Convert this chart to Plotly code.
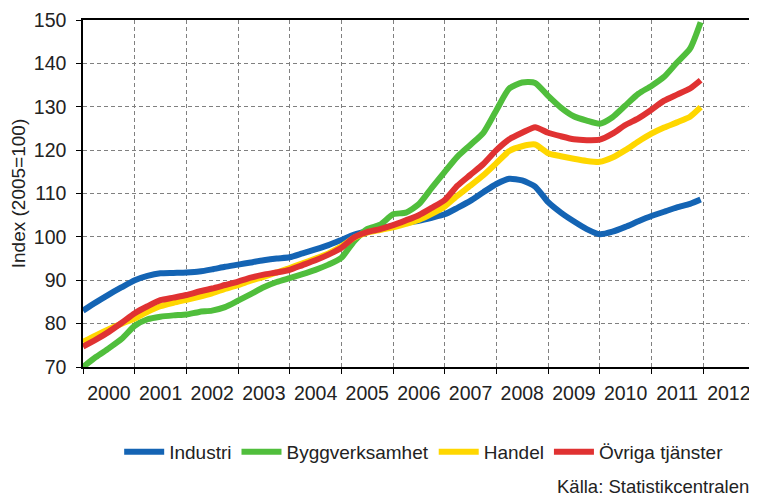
import plotly.graph_objects as go

# Quarterly sample dates
dates = [f"{y}-{m:02d}-01" for y in range(2000, 2012) for m in (1, 4, 7, 10)] + ["2011-12-15"]

industri = [83.0, 84.9, 86.7, 88.4, 90.0, 91.0, 91.6, 91.7, 91.8, 92.0, 92.5, 93.1,
            93.6, 94.1, 94.6, 95.0, 95.3, 96.2, 97.1, 98.1, 99.3, 100.5, 101.3, 101.9,
            102.6, 103.2, 103.7, 104.4, 105.2, 106.7, 108.3, 110.3, 112.2, 113.4, 113.0, 111.6,
            108.0, 105.6, 103.6, 101.8, 100.6, 101.2, 102.3, 103.6, 104.8, 105.8, 106.8, 107.6,
            108.6]
bygg = [70.0, 72.3, 74.3, 76.5, 79.5, 81.0, 81.6, 81.9, 82.1, 82.7, 83.0, 83.8,
        85.3, 86.8, 88.4, 89.6, 90.5, 91.4, 92.4, 93.6, 95.2, 99.0, 101.8, 102.8,
        105.2, 105.6, 107.5, 111.3, 115.0, 118.5, 121.2, 124.0, 129.2, 134.2, 135.6, 135.5,
        132.5, 129.8, 127.8, 126.8, 126.1, 127.6, 130.3, 133.0, 134.8, 136.9, 140.2, 143.4,
        149.5]
handel = [75.8, 77.3, 78.7, 80.0, 81.2, 82.7, 84.0, 84.8, 85.5, 86.2, 87.0, 88.0,
          88.9, 89.9, 90.8, 91.8, 92.8, 93.9, 95.0, 96.2, 97.8, 99.8, 101.0, 101.6,
          102.2, 103.0, 103.9, 105.3, 107.0, 109.5, 111.8, 114.2, 117.0, 119.8, 120.9, 121.3,
          119.3, 118.6, 118.0, 117.5, 117.3, 118.3, 120.0, 122.0, 123.8, 125.2, 126.4, 127.7,
          129.9]
ovriga = [74.7, 76.3, 78.1, 80.2, 82.4, 84.0, 85.4, 86.0, 86.6, 87.4, 88.1, 88.9,
          89.7, 90.6, 91.3, 91.8, 92.4, 93.5, 94.6, 95.9, 97.5, 99.9, 101.1, 101.8,
          102.7, 103.8, 105.0, 106.7, 108.5, 111.8, 114.3, 116.8, 120.0, 122.5, 124.0, 125.3,
          124.0, 123.2, 122.5, 122.3, 122.4, 123.8, 125.8, 127.3, 129.3, 131.4, 132.8, 134.2,
          136.1]

series = [
    ("Industri", industri, "#1464B4"),
    ("Byggverksamhet", bygg, "#50BE3C"),
    ("Handel", handel, "#FFD700"),
    ("Övriga tjänster", ovriga, "#E03232"),
]

FONT = "Liberation Sans, Arial, sans-serif"

fig = go.Figure()
for name, vals, col in series:
    fig.add_trace(go.Scatter(
        x=dates, y=vals, name=name, mode="lines",
        line=dict(color=col, width=6, shape="spline", smoothing=0.6),
    ))

# The page body has an 8px margin, so the figure is sized/offset to compensate.
fig.update_layout(
    width=749, height=492,
    margin=dict(l=75, r=6, t=12, b=133, autoexpand=False),
    paper_bgcolor="white", plot_bgcolor="white",
    font=dict(family=FONT, size=19, color="#222222"),
    showlegend=True,
    legend=dict(orientation="h", x=0.51, xanchor="center", y=-0.245, yanchor="middle",
                font=dict(size=19), itemwidth=40, tracegroupgap=0),
    annotations=[dict(text="Källa: Statistikcentralen", xref="paper", yref="paper",
                      x=1.0, y=-0.345, xanchor="right", yanchor="middle",
                      showarrow=False, font=dict(size=18.5, color="#222222"))],
)

fig.update_xaxes(
    type="date", range=["2000-01-01", "2012-12-05"],
    tick0="2000-01-01", dtick="M12", tickformat="%Y", ticklabelmode="period",
    showgrid=True, gridcolor="#808080", griddash="4px,3px", gridwidth=1,
    showline=True, linecolor="black", linewidth=1.5, mirror=True,
    ticks="outside", ticklen=5, tickcolor="black",
    tickfont=dict(size=19.5), ticklabelstandoff=3,
    zeroline=False,
)
fig.update_yaxes(
    range=[70, 150], dtick=10, tick0=70,
    showgrid=True, gridcolor="#808080", griddash="4px,3px", gridwidth=1,
    showline=True, linecolor="black", linewidth=1.5, mirror=True,
    ticks="outside", ticklen=5, tickcolor="black",
    tickfont=dict(size=19.5), ticklabelstandoff=6,
    title=dict(text="Index (2005=100)", font=dict(size=19), standoff=6),
    zeroline=False,
)

fig.write_html("out.html")
